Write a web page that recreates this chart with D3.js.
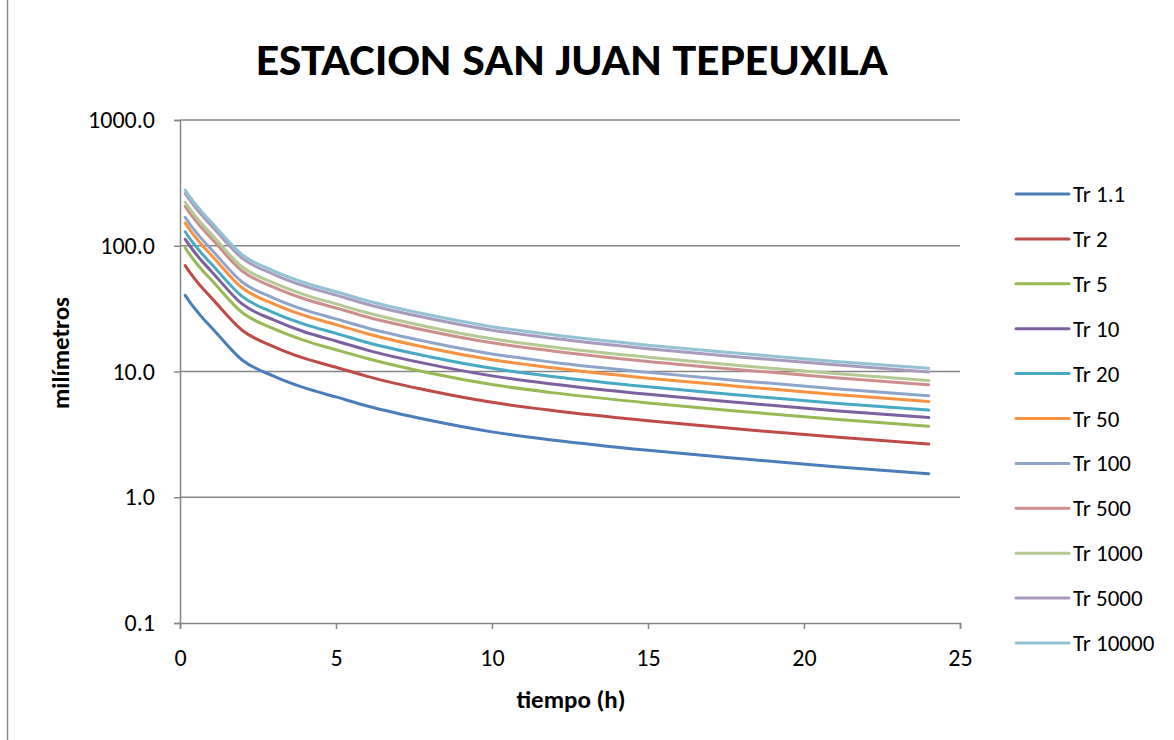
<!DOCTYPE html>
<html><head><meta charset="utf-8">
<script src="https://cdn.jsdelivr.net/npm/d3@7"></script>
<style>
html,body{margin:0;padding:0;background:#fff;}
text{font-family:Calibri,Carlito,Lato,"Open Sans",sans-serif;fill:#000;}
</style></head>
<body>
<svg id="chart" width="1174" height="740"></svg>
<script>
// time in hours
const times = [0.1667, 0.3333, 0.5, 0.6667, 0.8333, 1, 2, 3, 4, 5, 6, 8, 10, 12, 15, 18, 21, 24];
const seriesNames = ["Tr 1.1","Tr 2","Tr 5","Tr 10","Tr 20","Tr 50","Tr 100","Tr 500","Tr 1000","Tr 5000","Tr 10000"];
const tr1_1   = [40.4, 35.2, 31.1, 27.7, 24.9, 22.5, 12.3, 9.2, 7.4, 6.28, 5.32, 4.09, 3.31, 2.84, 2.36, 2.02, 1.75, 1.54];
const tr2     = [69.5, 60.5, 53.5, 47.6, 42.8, 38.7, 21.2, 15.8, 12.7, 10.8, 9.15, 7.03, 5.69, 4.88, 4.06, 3.47, 3.01, 2.65];
const tr5     = [96.2, 83.8, 74.0, 65.9, 59.3, 53.6, 29.3, 21.9, 17.6, 14.9, 12.7, 9.73, 7.88, 6.76, 5.62, 4.81, 4.17, 3.67];
const tr10    = [112.7, 98.2, 86.8, 77.3, 69.5, 62.8, 34.3, 25.7, 20.6, 17.5, 14.8, 11.4, 9.23, 7.92, 6.58, 5.64, 4.88, 4.30];
const tr20    = [129.3, 112.6, 99.5, 88.6, 79.7, 72.0, 39.4, 29.4, 23.7, 20.1, 17.0, 13.1, 10.6, 9.09, 7.55, 6.46, 5.60, 4.93];
const tr50    = [151.5, 132.0, 116.6, 103.9, 93.4, 84.4, 46.1, 34.5, 27.8, 23.6, 19.95, 15.3, 12.4, 10.65, 8.85, 7.58, 6.56, 5.78];
const tr100   = [168.5, 146.8, 129.7, 115.5, 103.8, 93.8, 51.3, 38.4, 30.9, 26.2, 22.2, 17.1, 13.8, 11.8, 9.84, 8.42, 7.30, 6.42];
const tr500   = [206.0, 179.5, 158.6, 141.3, 127.0, 114.8, 62.7, 46.9, 37.7, 32.0, 27.1, 20.9, 16.9, 14.5, 12.0, 10.3, 8.93, 7.85];
const tr1000  = [222.2, 193.6, 171.1, 152.4, 137.0, 123.8, 67.7, 50.6, 40.7, 34.5, 29.3, 22.5, 18.2, 15.6, 13.0, 11.1, 9.63, 8.47];
const tr5000  = [260.6, 227.0, 200.6, 178.7, 160.6, 145.1, 79.3, 59.3, 47.7, 40.5, 34.3, 26.4, 21.3, 18.3, 15.2, 13.0, 11.3, 9.93];
const tr10000 = [277.5, 241.8, 213.7, 190.3, 171.1, 154.6, 84.5, 63.2, 50.8, 43.1, 36.5, 28.1, 22.7, 19.5, 16.2, 13.9, 12.0, 10.6];
const seriesValues = [tr1_1, tr2, tr5, tr10, tr20, tr50, tr100, tr500, tr1000, tr5000, tr10000];
const colors = ["#4A7EBB","#BE4B48","#98B954","#7D60A0","#46AAC5","#F69240","#8EA5CB","#CE8E8D","#B5CA92","#A99BBD","#91C3D5"];
const xTicks = [0, 5, 10, 15, 20, 25];
const yTicks = [0.1, 1, 10, 100, 1000];
const titleText = "ESTACION SAN JUAN TEPEUXILA";
const xTitle = "tiempo (h)";
const yTitle = "milímetros";

const svg = d3.select("#chart");
const gridColor = "#868686";
const fontStack = "Calibri,Carlito,Lato,'Open Sans',sans-serif";

// outer chart border (left edge visible)
svg.append("line").attr("x1", 7.5).attr("x2", 7.5).attr("y1", 0).attr("y2", 740)
  .attr("stroke", "#8a8a8a").attr("stroke-width", 1.5);

const x = d3.scaleLinear().domain([0, 25]).range([180, 960]);
const y = d3.scaleLog().domain([0.1, 1000]).range([623, 120]);

// gridlines
svg.append("g").selectAll("line").data(yTicks.filter(d => d > 0.1)).join("line")
  .attr("x1", x(0)).attr("x2", x(25))
  .attr("y1", d => y(d)).attr("y2", d => y(d))
  .attr("stroke", gridColor).attr("stroke-width", 1.5);

// axes
const xAxis = d3.axisBottom(x).tickValues(xTicks).tickSize(6).tickFormat(d3.format("d"));
const gx = svg.append("g").attr("transform", `translate(0,${y(0.1)})`).call(xAxis);
gx.select(".domain").attr("stroke", gridColor).attr("stroke-width", 1.5);
gx.selectAll(".tick line").attr("stroke", gridColor).attr("stroke-width", 1.5);
gx.selectAll(".tick text").attr("font-size", 24).attr("y", 43).attr("dy", "0")
  .style("font-family", fontStack).style("font-weight", "normal").attr("fill", "#000");

const yAxis = d3.axisLeft(y).tickValues(yTicks).tickSize(6).tickFormat(d3.format(".1f"));
const gy = svg.append("g").attr("transform", `translate(${x(0)},0)`).call(yAxis);
gy.select(".domain").attr("stroke", gridColor).attr("stroke-width", 1.5);
gy.selectAll(".tick line").attr("stroke", gridColor).attr("stroke-width", 1.5);
gy.selectAll(".tick text").attr("font-size", 24).attr("x", -25)
  .style("font-family", fontStack).style("font-weight", "normal").attr("fill", "#000");

// lines
const line = d3.line().x(d => x(d[0])).y(d => y(d[1])).curve(d3.curveMonotoneX);
seriesValues.forEach((vals, i) => {
  svg.append("path")
    .datum(times.map((t, j) => [t, vals[j]]))
    .attr("d", line)
    .attr("fill", "none")
    .attr("stroke", colors[i])
    .attr("stroke-width", 3)
    .attr("stroke-linejoin", "round")
    .attr("stroke-linecap", "round");
});

// title
svg.append("text").attr("x", 572).attr("y", 75).attr("text-anchor", "middle")
  .attr("font-size", 44).attr("font-weight", "bold")
  .attr("textLength", 632).attr("lengthAdjust", "spacingAndGlyphs")
  .text(titleText);

// axis titles
svg.append("text").attr("x", 571).attr("y", 708).attr("text-anchor", "middle")
  .attr("font-size", 25).attr("font-weight", "bold").text(xTitle);
svg.append("text").attr("transform", "translate(69,353) rotate(-90)").attr("text-anchor", "middle")
  .attr("font-size", 25).attr("font-weight", "bold").text(yTitle);

// legend
const lg = svg.append("g");
seriesNames.forEach((name, i) => {
  const yy = 194 + i * 44.9;
  lg.append("line").attr("x1", 1016).attr("x2", 1069).attr("y1", yy).attr("y2", yy)
    .attr("stroke", colors[i]).attr("stroke-width", 3).attr("stroke-linecap", "round");
  lg.append("text").attr("x", 1073).attr("y", yy).attr("dy", "0.35em")
    .attr("font-size", 23).text(name);
});
</script>
</body></html>
